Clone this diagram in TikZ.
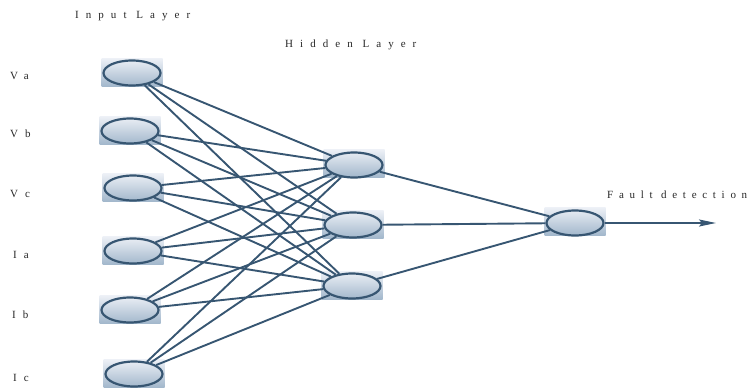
\documentclass[tikz,border=0pt]{standalone}
\usepackage{fontspec}
\setmainfont{Liberation Serif}
\newfontfamily\spaced[LetterSpace=64]{Liberation Serif}
\newfontfamily\spacedtight[LetterSpace=52]{Liberation Serif}
\usetikzlibrary{shapes.geometric,arrows.meta}

\definecolor{edge}{HTML}{375672}
\definecolor{shadetop}{HTML}{EEF1F7}
\definecolor{shadebot}{HTML}{A3B8CC}

\tikzset{
  plate/.style={rectangle, minimum width=61pt, minimum height=28pt, inner sep=0pt,
                top color=shadetop, bottom color=shadebot, draw=none},
  neuron/.style={ellipse, draw=edge, line width=2.2pt, minimum width=57pt,
                 minimum height=25pt, inner sep=0pt},
  link/.style={draw=edge, line width=1.9pt},
  caption/.style={anchor=base west, inner sep=0pt, font=\fontsize{11}{13}\selectfont\spaced, text=black!85}
}

\begin{document}
\begin{tikzpicture}[x=1pt,y=-1pt]
  \useasboundingbox (0,0) rectangle (750,388);

  % shaded plates behind each unit
  \node[plate] (pva) at (132,72) {};
  \node[plate] (pvb) at (130,130) {};
  \node[plate] (pvc) at (133,187) {};
  \node[plate] (pia) at (133,250) {};
  \node[plate] (pib) at (130,309) {};
  \node[plate] (pic) at (134,373) {};
  \node[plate] (ph1) at (354,163) {};
  \node[plate] (ph2) at (353,224) {};
  \node[plate] (ph3) at (352,285) {};
  \node[plate] (pout) at (575,221) {};

  % units
  \node[neuron] (va) at (132,73) {};
  \node[neuron] (vb) at (130,131) {};
  \node[neuron] (vc) at (133,188) {};
  \node[neuron] (ia) at (133,251) {};
  \node[neuron] (ib) at (130,310) {};
  \node[neuron] (ic) at (134,374) {};
  \node[neuron] (h1) at (354,165) {};
  \node[neuron] (h2) at (353,225) {};
  \node[neuron] (h3) at (352,286) {};
  \node[neuron] (out) at (575,223) {};
  \coordinate (goal) at (716,223);

  % input to hidden connections
  \foreach \i in {va,vb,vc,ia,ib,ic}
    \foreach \h in {h1,h2,h3}
      \draw[link] (\i) -- (\h);

  % hidden to output connections
  \foreach \h in {h1,h2,h3}
    \draw[link] (\h) -- (out);

  \draw[link, -{Stealth[length=17pt,width=7pt,inset=3pt]}] (out) -- (goal);

  % labels
  \node[caption] (tin) at (75,19) {Input Layer};
  \node[caption] (thid) at (285,47) {Hidden Layer};
  \node[caption, font=\fontsize{11}{13}\selectfont\spacedtight] (tout) at (607,198) {Fault detection};
  \node[caption] (lva) at (10,79) {Va};
  \node[caption] (lvb) at (10,137) {Vb};
  \node[caption] (lvc) at (10,197) {Vc};
  \node[caption] (lia) at (13,258) {Ia};
  \node[caption] (lib) at (12,318) {Ib};
  \node[caption] (lic) at (13,381) {Ic};
\end{tikzpicture}
\end{document}
